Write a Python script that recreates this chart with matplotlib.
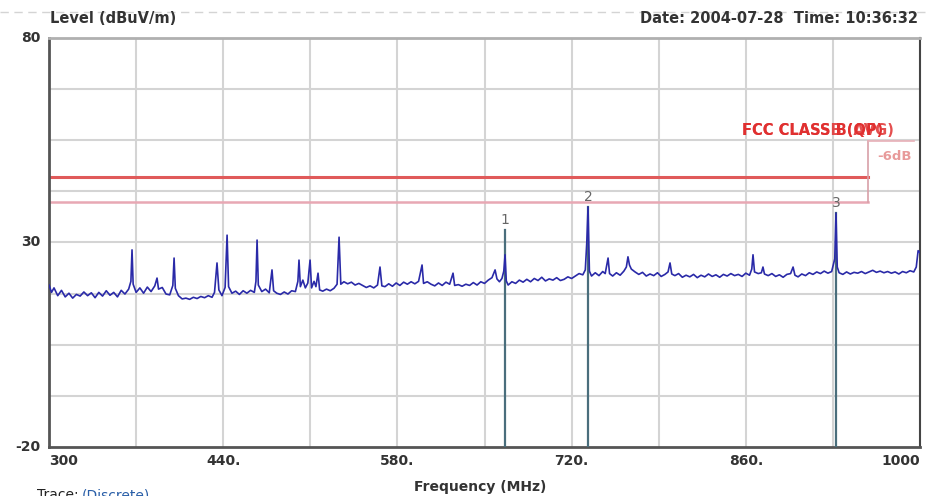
import matplotlib.pyplot as plt
from matplotlib.lines import Line2D

# Scan trace: frequency (MHz) and level (dBuV/m)
freqs = [
    300, 302, 304, 307, 310, 313, 316, 319, 322, 325, 328, 331, 334, 337, 340,
    343, 346, 349, 352, 355, 358, 361, 364, 365.8, 366.7, 367.6, 370, 373, 376,
    379, 382, 385, 386.8, 388, 391, 394, 397, 399.5, 400.5, 401.5, 404, 407,
    410, 413, 416, 419, 422, 425, 428, 431, 433, 435, 436.5, 439, 441.5, 443.1,
    444.3, 447, 450, 453, 456, 459, 462, 465, 466.3, 467.2, 468.2, 471, 474,
    477, 479.2, 480.5, 483, 486, 489, 492, 495, 498, 500, 500.9, 502, 504, 506,
    508, 509.8, 511, 513, 514.5, 516.2, 517.5, 520, 523, 526, 529, 531.5, 533.1,
    534.5, 537, 540, 543, 546, 549, 552, 555, 558, 561, 564, 566, 567.5, 570,
    573, 576, 579, 582, 585, 588, 591, 594, 597, 599.8, 601, 604, 607, 610, 613,
    616, 619, 622, 624.7, 626, 629, 632, 635, 638, 641, 644, 647, 650, 653, 656,
    658.5, 660, 662, 664, 665.5, 666.5, 667.5, 669, 672, 675, 678, 681, 684, 687,
    690, 693, 696, 699, 702, 705, 708, 711, 714, 717, 720, 723, 726, 729, 731,
    732.2, 733.2, 734.3, 736, 739, 742, 745, 747, 749.3, 750.5, 753, 756, 759,
    762, 764, 765.3, 766.5, 768, 771, 774, 777, 780, 783, 786, 789, 792, 795,
    797.5, 799.1, 800.5, 803, 806, 809, 812, 815, 818, 821, 824, 827, 830, 833,
    836, 839, 842, 845, 848, 851, 854, 857, 860, 863, 864.8, 865.8, 867, 870,
    872.5, 873.8, 875, 878, 881, 884, 887, 890, 893, 896, 898, 899.5, 902, 905,
    908, 911, 914, 917, 920, 923, 926, 929, 931.5, 932.5, 933.5, 935, 938, 941,
    944, 947, 950, 953, 956, 959, 962, 965, 968, 971, 974, 977, 980, 983, 986,
    989, 992, 995, 997, 998.5, 1000,
]
levels = [
    19.6, 17.8, 18.9, 17.0, 18.3, 16.7, 17.6, 16.4, 17.3, 16.9, 17.9, 17.0, 17.7, 16.5, 17.8,
    16.9, 18.2, 17.1, 17.8, 16.7, 18.3, 17.4, 18.6, 20.5, 28.2, 19.8, 17.8, 18.9, 17.6,
    19.1, 18.0, 19.4, 21.3, 18.6, 19.0, 17.4, 17.2, 19.5, 26.2, 18.8, 17.0, 16.2,
    16.4, 16.1, 16.6, 16.3, 16.8, 16.5, 17.0, 16.6, 17.8, 25.0, 18.4, 17.0, 19.0, 31.8,
    19.2, 17.6, 18.1, 17.3, 18.2, 17.6, 18.3, 17.8, 20.5, 30.6, 19.6, 18.0, 18.6,
    17.7, 23.3, 18.2, 17.6, 17.3, 17.9, 17.4, 18.2, 18.0, 20.5, 25.7, 19.2, 20.8, 18.9,
    20.1, 25.7, 18.9, 20.5, 19.2, 22.5, 18.4, 18.1, 18.6, 18.2, 18.8, 19.8, 31.3,
    19.8, 20.4, 19.9, 20.3, 19.6, 20.0, 19.5, 19.0, 19.4, 18.9, 19.6, 24.0, 19.4, 19.2,
    19.9, 19.3, 20.1, 19.5, 20.3, 19.8, 20.4, 19.9, 20.5, 24.5, 20.0, 20.4, 19.8, 19.4, 20.1,
    19.5, 20.3, 19.8, 22.5, 19.5, 19.7, 19.3, 19.8, 19.5, 20.2, 19.6, 20.4, 20.0, 20.8, 21.4,
    23.3, 21.1, 20.4, 21.2, 23.0, 27.0, 20.6, 19.6, 20.4, 20.0, 20.8, 20.3, 21.0, 20.4,
    21.2, 20.7, 21.5, 20.6, 21.1, 20.8, 21.4, 20.7, 21.0, 21.6, 21.2, 21.8, 22.4, 22.1, 23.3,
    30.0, 38.7, 23.0, 21.8, 22.6, 21.9, 22.9, 22.4, 26.2, 22.4, 21.8, 22.6, 22.0,
    23.0, 24.0, 26.5, 24.5, 23.5, 22.8, 22.2, 22.7, 21.8, 22.3, 21.9, 22.6, 21.7, 22.2,
    22.8, 25.0, 22.3, 21.9, 22.4, 21.5, 22.0, 21.6, 22.2, 21.4, 22.0, 21.6, 22.3, 21.7,
    22.1, 21.5, 22.2, 21.8, 22.4, 21.9, 22.2, 21.7, 22.5, 22.0, 23.5, 27.0, 22.8, 22.4,
    22.6, 24.0, 22.3, 21.9, 22.4, 21.7, 22.1, 21.5, 22.2, 22.4, 24.0, 22.0, 21.6, 22.3,
    21.9, 22.6, 22.2, 22.8, 22.4, 23.0, 22.5, 22.9, 26.0, 37.2, 24.0, 22.6, 22.2, 22.8,
    22.3, 22.7, 22.5, 22.9, 22.4, 22.8, 23.2, 22.7, 23.0, 22.6, 22.9, 22.5, 22.8, 22.3, 22.9,
    22.6, 23.1, 22.8, 24.0, 28.0, 27.5,
]

# Markers
marker_ids = ["1", "2", "3"]
marker_freqs = [666.5, 733.2, 932.5]
marker_levels = [33.0, 38.7, 37.2]

# Limit lines (QP and AVG names are drawn on top of each other)
limit_name = "FCC CLASS B(QP)"
limit_name_2 = "FCC CLASSB (AVG)"
limit_level = 46.0
margin_db = 6.0
limit_end = 958

xticks = [300, 440, 580, 720, 860, 1000]
xtick_labels = ["300", "440.", "580.", "720.", "860.", "1000"]
yticks = [80, 30, -20]

plt.rcParams['font.family'] = ['DejaVu Sans']

fig = plt.figure(figsize=(9.34, 4.96), dpi=100)
ax = fig.add_axes([0.0525, 0.0988, 0.9325, 0.8246])
ax.set_xlim(300, 1000)
ax.set_ylim(-20, 80)

# grid: every 70 MHz, every 12.5 dB
for f in range(370, 1000, 70):
    ax.axvline(f, color='#d4d4d4', lw=1.5, zorder=0)
for lv in [-7.5, 5, 17.5, 30, 42.5, 55, 67.5]:
    ax.axhline(lv, color='#d4d4d4', lw=1.5, zorder=0)

# limit line and margin line
ax.plot([300, limit_end], [limit_level, limit_level], color='#e05a5a', lw=2.2, zorder=2)
ax.plot([300, limit_end], [limit_level - margin_db] * 2, color='#e8a8b4', lw=1.8, zorder=2)
ax.plot([limit_end, limit_end], [limit_level - margin_db, 54.8], color='#d8a0a8', lw=1.2, zorder=2)
ax.plot([limit_end, 995], [54.8, 54.8], color='#e8b0b8', lw=1.2, zorder=2)
ax.text(857, 57.4, limit_name, color='#e03030', fontsize=10.5,
        fontweight='bold', ha='left', va='center', zorder=4)
ax.text(857, 57.4, limit_name_2, color='#e03030', fontsize=10.5,
        fontweight='bold', ha='left', va='center', zorder=4, alpha=0.85)
ax.text(993, 51.0, "-6dB", color='#e89a9a', fontsize=9.5, ha='right', va='center',
        fontweight='bold')

# markers
for mid, mf, ml in zip(marker_ids, marker_freqs, marker_levels):
    ax.plot([mf, mf], [-20, ml], color='#4a6e7c', lw=1.6, zorder=3)
    ax.text(mf, ml + 0.8, mid, color='#666666', fontsize=10, ha='center', va='bottom')

# trace
ax.plot(freqs, levels, color='#2a2aa8', lw=1.2, zorder=5)

ax.set_xticks(xticks)
ax.set_xticklabels([])
ax.set_yticks(yticks)
ax.set_yticklabels([])
ax.tick_params(length=0)
for f, lab in zip(xticks, xtick_labels):
    ha = 'left' if f == 300 else ('right' if f == 1000 else 'center')
    ax.text(f, -23.5, lab, ha=ha, va='center', fontsize=10, fontweight='bold', color='#333333')
for lv in yticks:
    ax.text(293, lv, str(lv), ha='right', va='center', fontsize=10, fontweight='bold',
            color='#333333', clip_on=False)

for side in ['left', 'bottom']:
    ax.spines[side].set_color('#555555')
    ax.spines[side].set_linewidth(2)
ax.spines['right'].set_color('#444444')
ax.spines['right'].set_linewidth(1.5)
ax.spines['top'].set_color('#b0b0b0')
ax.spines['top'].set_linewidth(2)

fig.text(0.054, 0.963, "Level (dBuV/m)", fontsize=10.5, fontweight='bold', color='#333333',
         ha='left', va='center')
fig.text(0.983, 0.963, "Date: 2004-07-28  Time: 10:36:32", fontsize=10.5, fontweight='bold',
         color='#333333', ha='right', va='center')
fig.text(0.514, 0.018, "Frequency (MHz)", fontsize=10, fontweight='bold', color='#333333',
         ha='center', va='center')
fig.text(0.04, 0.002, "Trace:", fontsize=10, color='#222222', ha='left', va='center')
fig.text(0.088, 0.002, "(Discrete)", fontsize=10, color='#2a5fa8', ha='left', va='center')
fig.add_artist(Line2D([0.0, 0.995], [0.975, 0.975], transform=fig.transFigure,
                      color='#d4d4d4', lw=1, ls=(0, (6, 4))))

fig.savefig("out.png", dpi=100)
